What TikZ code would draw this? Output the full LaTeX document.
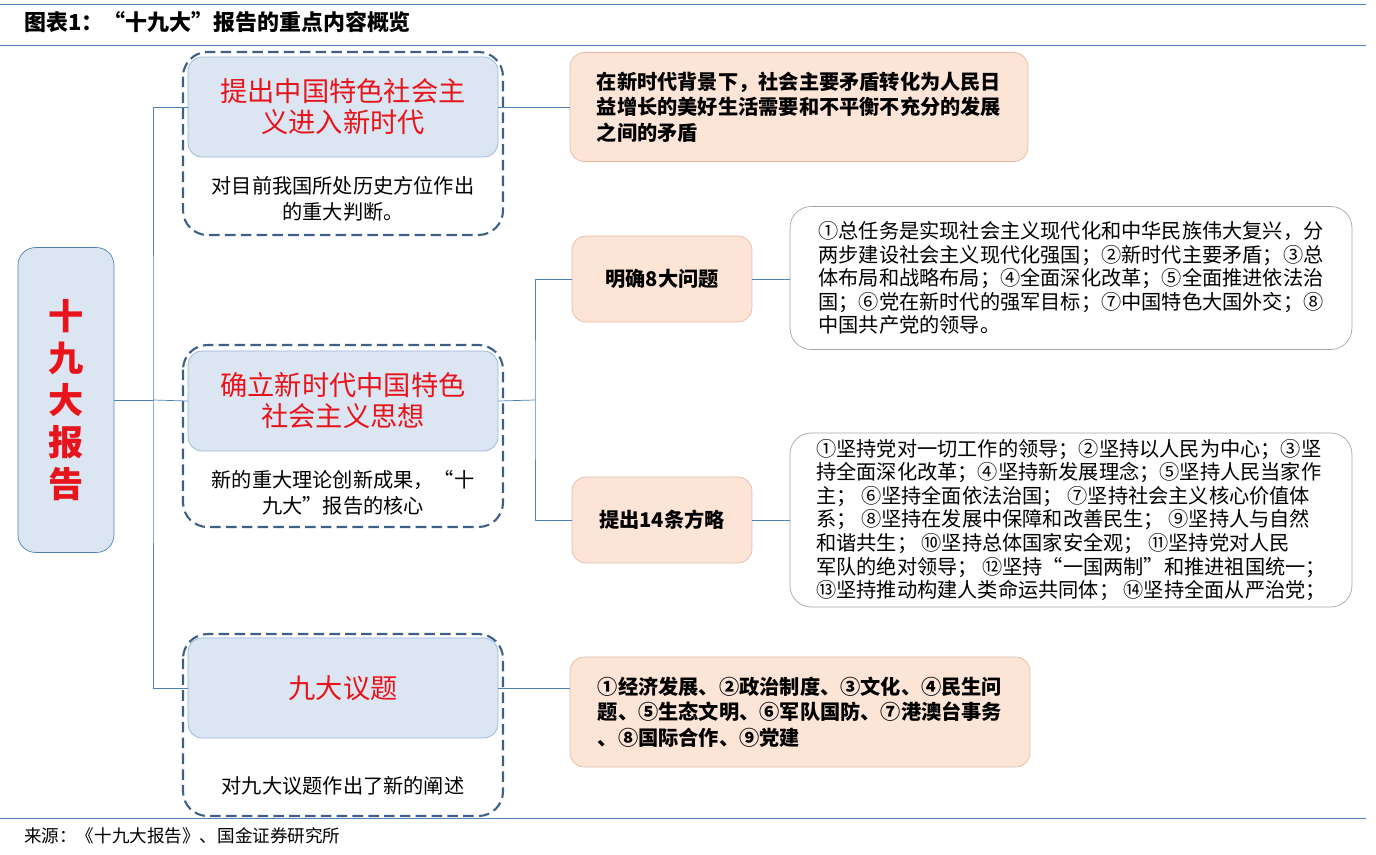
\documentclass[tikz,border=0pt]{standalone}
\usepackage{fontspec}
\setmainfont{Noto Sans CJK SC}
\usetikzlibrary{positioning}
\definecolor{lineblue}{HTML}{4F81BD}
\definecolor{boxblue}{HTML}{DCE6F2}
\definecolor{dashblue}{HTML}{3E5F86}
\definecolor{pinkfill}{HTML}{FCE4D6}
\definecolor{pinkdraw}{HTML}{E6B9A6}
\definecolor{redtext}{HTML}{E8141B}
\tikzset{
  headbox/.style={draw=lineblue!60,fill=boxblue,rounded corners=8pt,minimum width=6.2cm,minimum height=2cm,
    text=redtext,font=\fontsize{15.5}{17.6}\selectfont,align=center},
  groupbox/.style={draw=dashblue,dash pattern=on 6pt off 3pt,very thick,rounded corners=14pt},
  pinkbox/.style={draw=pinkdraw,fill=pinkfill,rounded corners=8pt,font=\bfseries\fontsize{11.5}{14.5}\selectfont},
  listbox/.style={draw=gray!70,fill=white,rounded corners=12pt,font=\fontsize{11.5}{13.4}\selectfont,align=left},
  link/.style={draw=lineblue,thin}
}
\begin{document}
\begin{tikzpicture}[x=0.02cm,y=-0.02cm]
\useasboundingbox (0,0) rectangle (1376,855);
% title and rules
\node[anchor=west,font=\bfseries\itshape\fontsize{12.5}{14}\selectfont] (title) at (18,22) {图表1：“十九大”报告的重点内容概览};
\draw[lineblue] (0,4) -- (1366,4);
\draw[lineblue] (0,45) -- (1366,45);
\draw[lineblue] (0,818) -- (1366,818);
\node[anchor=west,font=\fontsize{10}{12}\selectfont] (src) at (18,836) {来源：《十九大报告》、国金证券研究所};
% left
\node[draw=lineblue,fill=boxblue,rounded corners=10pt,minimum width=1.92cm,minimum height=6.1cm,text=redtext,
  font=\bfseries\fontsize{20}{24}\selectfont,align=center] (root) at (66,400) {十\\九\\大\\报\\告};
% groups
\draw[groupbox] (183,52) rectangle (503,235);
\draw[groupbox] (183,345) rectangle (503,527);
\draw[groupbox] (183,634) rectangle (503,816);
\node[headbox] (h1) at (343,107) {提出中国特色社会主\\义进入新时代};
\node[headbox] (h2) at (343,401) {确立新时代中国特色\\社会主义思想};
\node[headbox] (h3) at (343,688) {九大议题};
\node[font=\fontsize{11.5}{14.5}\selectfont,align=center] (s1) at (343,199) {对目前我国所处历史方位作出\\的重大判断。};
\node[font=\fontsize{11.5}{14.5}\selectfont,align=center] (s2) at (343,493) {新的重大理论创新成果，“十\\九大”报告的核心};
\node[font=\fontsize{11.5}{14.5}\selectfont,align=center] (s3) at (343,786) {对九大议题作出了新的阐述};
% right side
\node[pinkbox,minimum width=9.16cm,minimum height=2.18cm,align=left] (p1) at (799,107) {在新时代背景下，社会主要矛盾转化为人民日\\益增长的美好生活需要和不平衡不充分的发展\\之间的矛盾};
\node[pinkbox,minimum width=3.6cm,minimum height=1.72cm] (q8) at (662,279) {明确8大问题};
\node[pinkbox,minimum width=3.6cm,minimum height=1.72cm] (q14) at (662,520) {提出14条方略};
\node[pinkbox,minimum width=9.2cm,minimum height=2.2cm,align=left] (p3) at (800,712) {①经济发展、②政治制度、③文化、④民生问\\题、⑤生态文明、⑥军队国防、⑦港澳台事务\\、⑧国际合作、⑨党建};
\node[listbox,minimum width=11.24cm,minimum height=2.86cm] (l8) at (1071,278) {①总任务是实现社会主义现代化和中华民族伟大复兴，分\\两步建设社会主义现代化强国；②新时代主要矛盾；③总\\体布局和战略布局；④全面深化改革；⑤全面推进依法治\\国；⑥党在新时代的强军目标；⑦中国特色大国外交；⑧\\中国共产党的领导。};
\node[listbox,minimum width=11.24cm,minimum height=3.48cm] (l14) at (1071,520) {①坚持党对一切工作的领导；②坚持以人民为中心；③坚\\持全面深化改革；④坚持新发展理念；⑤坚持人民当家作\\主；\ ⑥坚持全面依法治国；\ ⑦坚持社会主义核心价值体\\系；\ ⑧坚持在发展中保障和改善民生；\ ⑨坚持人与自然\\和谐共生；\ ⑩坚持总体国家安全观；\ ⑪坚持党对人民\\军队的绝对领导；\ ⑫坚持“一国两制”和推进祖国统一；\\⑬坚持推动构建人类命运共同体；\ ⑭坚持全面从严治党；};
% connectors
\coordinate (j1) at (153,400);
\coordinate (j2) at (535,400);
\draw[link] (root.east) -- (j1);
\draw[link] (h1.west) -| (j1) |- (h3.west);
\draw[link] (j1) -- (h2.west);
\draw[link] (h1.east) -- (p1.west |- h1.east);
\draw[link] (h2.east) -- (j2);
\draw[link] (q8.west) -| (j2) |- (q14.west);
\draw[link] (q8.east) -- (l8.west |- q8.east);
\draw[link] (q14.east) -- (l14.west |- q14.east);
\draw[link] (h3.east) -- (p3.west |- h3.east);
\end{tikzpicture}
\end{document}
